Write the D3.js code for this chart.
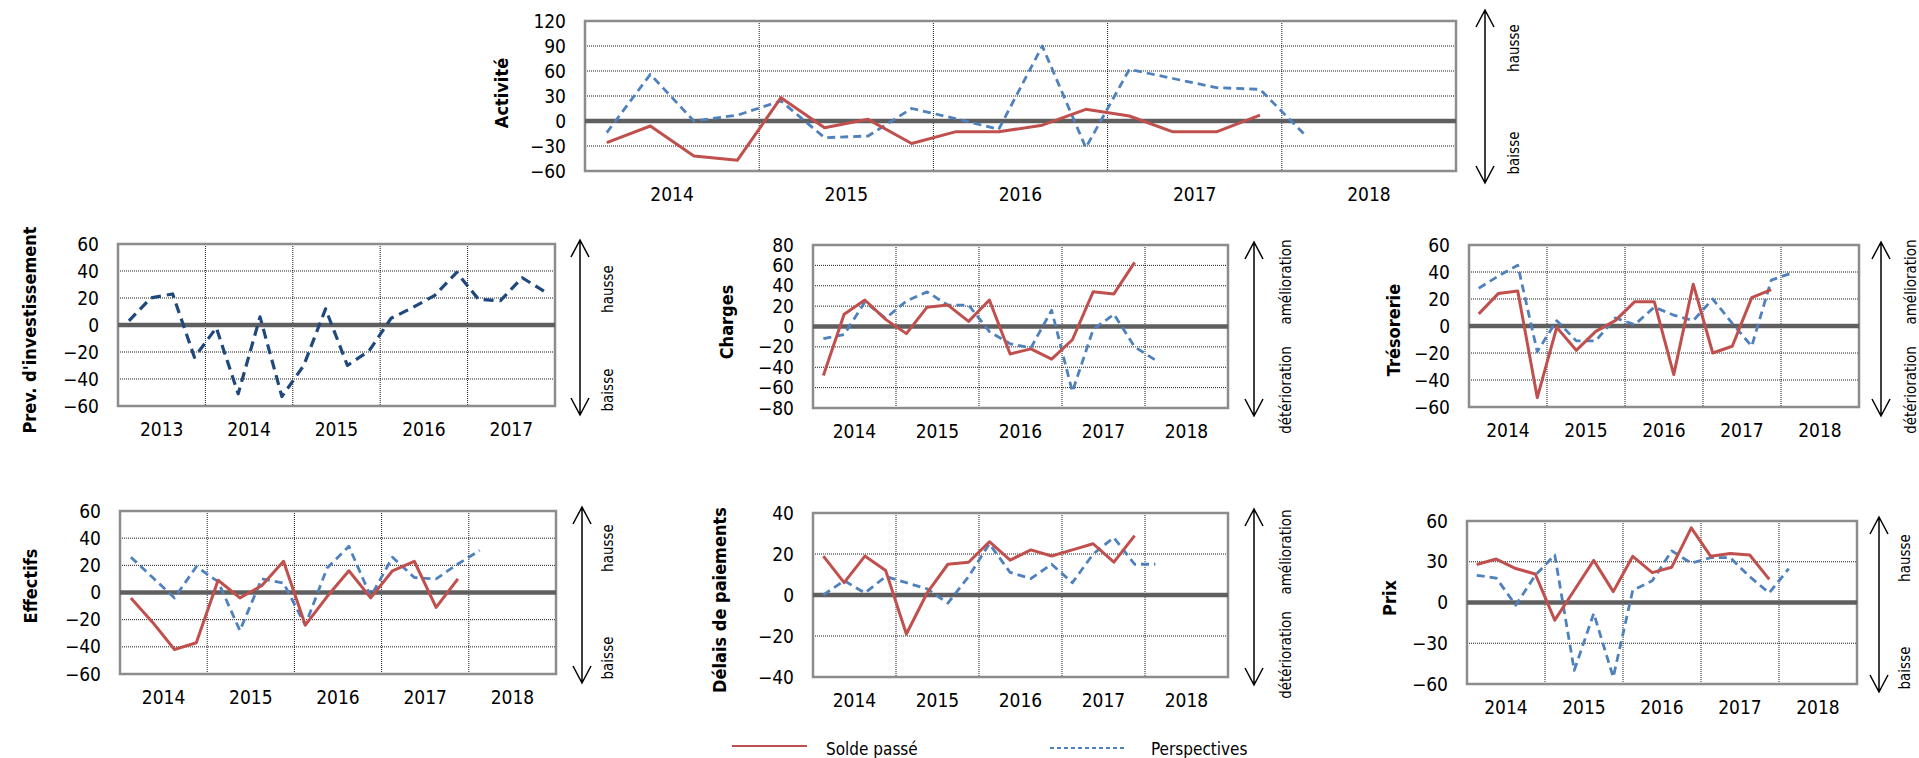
<!DOCTYPE html>
<html>
<head>
<meta charset="utf-8">
<script src="https://cdn.jsdelivr.net/npm/d3@7"></script>
<style>
  html, body { margin: 0; padding: 0; background: #fff; }
  svg { display: block; font-family: "DejaVu Sans Condensed", "DejaVu Sans", sans-serif; font-stretch: condensed; }
</style>
</head>
<body>
<svg id="chart" width="1919" height="758"></svg>
<script>
// ---------------- DATA ----------------
const yearsMain = ["2014", "2015", "2016", "2017", "2018"];
const yearsPrev = ["2013", "2014", "2015", "2016", "2017"];
const quarterNames = ["T1", "T2", "T3", "T4"];

const ticksActivite = [-60, -30, 0, 30, 60, 90, 120];
const ticksPrev = [-60, -40, -20, 0, 20, 40, 60];
const ticksCharges = [-80, -60, -40, -20, 0, 20, 40, 60, 80];
const ticksTresorerie = [-60, -40, -20, 0, 20, 40, 60];
const ticksEffectifs = [-60, -40, -20, 0, 20, 40, 60];
const ticksDelais = [-40, -20, 0, 20, 40];
const ticksPrix = [-60, -30, 0, 30, 60];

const activiteSolde = [-26, -6, -42, -47, 28, -8, 2, -27, -13, -13, -5, 14, 6, -13, -13, 7];
const activitePersp = [-14, 56, 0, 7, 24, -20, -18, 15, 3, -10, 90, -32, 62, 51, 40, 38, -15];

const investPersp = [3, 20, 23, -24, -2, -51, 6, -53, -30, 12, -30, -19, 5, 13, 22, 39, 19, 18, 35, 25];

const chargesSolde = [-48, 12, 26, 7, -7, 19, 21, 5, 26, -27, -22, -32, -13, 34, 32, 63];
const chargesPersp = [-12, -8, 24, 8, 25, 34, 21, 21, -5, -17, -21, 16, -64, -3, 12, -20, -33];

const tresoSolde = [9, 24, 26, -53, -1, -18, -4, 4, 18, 18, -36, 31, -20, -15, 21, 27];
const tresoPersp = [28, 37, 45, -19, 4, -11, -11, 6, 1, 14, 8, 4, 20, 2, -15, 34, 39];

const effectifsSolde = [-4, -22, -42, -37, 9, -4, 5, 23, -24, -3, 16, -4, 16, 23, -11, 10];
const effectifsPersp = [26, 11, -4, 19, 8, -28, 10, 7, -24, 18, 34, -3, 26, 11, 10, 21, 31];

const delaisSolde = [19, 6, 19, 12, -19, 1, 15, 16, 26, 17, 22, 19, 22, 25, 16, 29];
const delaisPersp = [0, 7, 1, 9, 6, 3, -4, 9, 25, 11, 8, 15, 6, 20, 28, 15, 15];

const prixSolde = [28, 32, 25, 21, -13, 9, 31, 8, 34, 22, 26, 55, 34, 36, 35, 17];
const prixPersp = [20, 18, -2, 20, 35, -50, -8, -55, 9, 16, 38, 29, 33, 33, 19, 7, 25];

const legendLabels = ["Solde passé", "Perspectives"];

// ---------------- STYLE / LAYOUT ----------------
const RED = "#C0504D", BLUE = "#4F81BD", DARKBLUE = "#1F497D";

const panels = [
  { title: "Activité", years: yearsMain, ticks: ticksActivite, solde: activiteSolde, persp: activitePersp,
    x0: 585, x1: 1456, y0: 21, y1: 171, titleX: 508, titleY: 93,
    arrowX: 1485, ay0: 10, ay1: 183, sideX: 1519, up: "hausse", down: "baisse", upY: 48, downY: 153 },
  { title: "Prev. d'investissement", years: yearsPrev, ticks: ticksPrev, solde: null, persp: investPersp, dark: true,
    x0: 118, x1: 555, y0: 244, y1: 406, titleX: 36, titleY: 330,
    arrowX: 580, ay0: 240, ay1: 415, sideX: 613, up: "hausse", down: "baisse", upY: 289, downY: 390 },
  { title: "Charges", years: yearsMain, ticks: ticksCharges, solde: chargesSolde, persp: chargesPersp,
    x0: 813, x1: 1228, y0: 245, y1: 408, titleX: 733, titleY: 322,
    arrowX: 1254, ay0: 242, ay1: 416, sideX: 1291, up: "amélioration", down: "détérioration", upY: 282, downY: 390 },
  { title: "Trésorerie", years: yearsMain, ticks: ticksTresorerie, solde: tresoSolde, persp: tresoPersp,
    x0: 1469, x1: 1859, y0: 245, y1: 407, titleX: 1400, titleY: 330,
    arrowX: 1881, ay0: 242, ay1: 416, sideX: 1916, up: "amélioration", down: "détérioration", upY: 282, downY: 390 },
  { title: "Effectifs", years: yearsMain, ticks: ticksEffectifs, solde: effectifsSolde, persp: effectifsPersp,
    x0: 120, x1: 556, y0: 511, y1: 674, titleX: 37, titleY: 586,
    arrowX: 582, ay0: 507, ay1: 683, sideX: 613, up: "hausse", down: "baisse", upY: 548, downY: 658 },
  { title: "Délais de paiements", years: yearsMain, ticks: ticksDelais, solde: delaisSolde, persp: delaisPersp,
    x0: 813, x1: 1228, y0: 513, y1: 677, titleX: 726, titleY: 600,
    arrowX: 1254, ay0: 509, ay1: 685, sideX: 1291, up: "amélioration", down: "détérioration", upY: 552, downY: 655 },
  { title: "Prix", years: yearsMain, ticks: ticksPrix, solde: prixSolde, persp: prixPersp,
    x0: 1467, x1: 1857, y0: 521, y1: 684, titleX: 1396, titleY: 598,
    arrowX: 1879, ay0: 517, ay1: 692, sideX: 1910, up: "hausse", down: "baisse", upY: 558, downY: 668 }
];

const svg = d3.select("#chart");

panels.forEach(p => {
  const g = svg.append("g");
  const quarters = p.years.flatMap(yr => quarterNames.map(q => yr + q));
  const xq = d3.scaleBand().domain(quarters).range([p.x0, p.x1]).padding(0);
  const xy = d3.scaleBand().domain(p.years).range([p.x0, p.x1]).padding(0);
  const ext = d3.extent(p.ticks);
  const y = d3.scaleLinear().domain(ext).range([p.y1, p.y0]);

  // horizontal gridlines (dotted)
  g.selectAll("line.hgrid").data(p.ticks.filter(t => t !== 0 && t !== ext[0] && t !== ext[1]))
    .join("line").attr("class", "hgrid")
    .attr("x1", p.x0).attr("x2", p.x1)
    .attr("y1", d => y(d)).attr("y2", d => y(d))
    .attr("stroke", "#1a1a1a").attr("stroke-width", 1).attr("stroke-dasharray", "1,1");

  // vertical year separators (dotted)
  g.selectAll("line.vgrid").data(p.years.slice(1))
    .join("line").attr("class", "vgrid")
    .attr("x1", d => xy(d)).attr("x2", d => xy(d))
    .attr("y1", p.y0).attr("y2", p.y1)
    .attr("stroke", "#1a1a1a").attr("stroke-width", 1).attr("stroke-dasharray", "1,1");

  // plot border
  g.append("rect").attr("x", p.x0).attr("y", p.y0)
    .attr("width", p.x1 - p.x0).attr("height", p.y1 - p.y0)
    .attr("fill", "none").attr("stroke", "#8c8c8c").attr("stroke-width", 2.5);

  // zero line
  g.append("line").attr("x1", p.x0).attr("x2", p.x1)
    .attr("y1", y(0)).attr("y2", y(0))
    .attr("stroke", "#5f5f5f").attr("stroke-width", 4.5);

  // y axis
  const ya = g.append("g").attr("transform", `translate(${p.x0},0)`)
    .call(d3.axisLeft(y).tickValues(p.ticks).tickSize(0).tickPadding(19).tickFormat(d3.format("d")));
  ya.select(".domain").remove();
  ya.selectAll("text").attr("font-size", 19).attr("fill", "#000")
    .attr("font-family", "'DejaVu Sans Condensed', 'DejaVu Sans', sans-serif");

  // x axis (years)
  const xa = g.append("g").attr("transform", `translate(0,${p.y1})`)
    .call(d3.axisBottom(xy).tickSize(0).tickPadding(17));
  xa.select(".domain").remove();
  xa.selectAll("text").attr("font-size", 19).attr("fill", "#000")
    .attr("font-family", "'DejaVu Sans Condensed', 'DejaVu Sans', sans-serif");

  const line = d3.line()
    .x((d, i) => xq(quarters[i]) + xq.bandwidth() / 2)
    .y(d => y(d));

  if (p.persp) {
    g.append("path").datum(p.persp).attr("d", line)
      .attr("fill", "none")
      .attr("stroke", p.dark ? DARKBLUE : BLUE)
      .attr("stroke-width", p.dark ? 3.2 : 2.8)
      .attr("stroke-dasharray", p.dark ? "10,6" : "8,5")
      .attr("stroke-linejoin", "round");
  }
  if (p.solde) {
    g.append("path").datum(p.solde).attr("d", line)
      .attr("fill", "none").attr("stroke", RED)
      .attr("stroke-width", 3).attr("stroke-linejoin", "round");
  }

  // title
  g.append("text")
    .attr("transform", `translate(${p.titleX},${p.titleY}) rotate(-90)`)
    .attr("text-anchor", "middle").attr("font-weight", "bold").attr("font-size", 18)
    .attr("fill", "#000").text(p.title);

  // double arrow
  const a = p.arrowX, hw = 9, hl = 17;
  g.append("path")
    .attr("d", `M${a},${p.ay0}L${a},${p.ay1}M${a - hw},${p.ay0 + hl}L${a},${p.ay0}L${a + hw},${p.ay0 + hl}` +
               `M${a - hw},${p.ay1 - hl}L${a},${p.ay1}L${a + hw},${p.ay1 - hl}`)
    .attr("fill", "none").attr("stroke", "#000").attr("stroke-width", 1.5);

  [[p.up, p.upY], [p.down, p.downY]].forEach(([t, cy]) => {
    g.append("text")
      .attr("transform", `translate(${p.sideX},${cy}) rotate(-90)`)
      .attr("text-anchor", "middle").attr("font-size", 15).attr("fill", "#000").text(t);
  });
});

// legend
const leg = svg.append("g");
leg.append("line").attr("x1", 732).attr("x2", 807).attr("y1", 746).attr("y2", 746)
  .attr("stroke", RED).attr("stroke-width", 1.8);
leg.append("text").attr("x", 826).attr("y", 755).attr("font-size", 17).attr("fill", "#000").text(legendLabels[0]);
leg.append("line").attr("x1", 1050).attr("x2", 1125).attr("y1", 748).attr("y2", 748)
  .attr("stroke", BLUE).attr("stroke-width", 1.8).attr("stroke-dasharray", "4,3");
leg.append("text").attr("x", 1151).attr("y", 755).attr("font-size", 17).attr("fill", "#000").text(legendLabels[1]);
</script>
</body>
</html>
